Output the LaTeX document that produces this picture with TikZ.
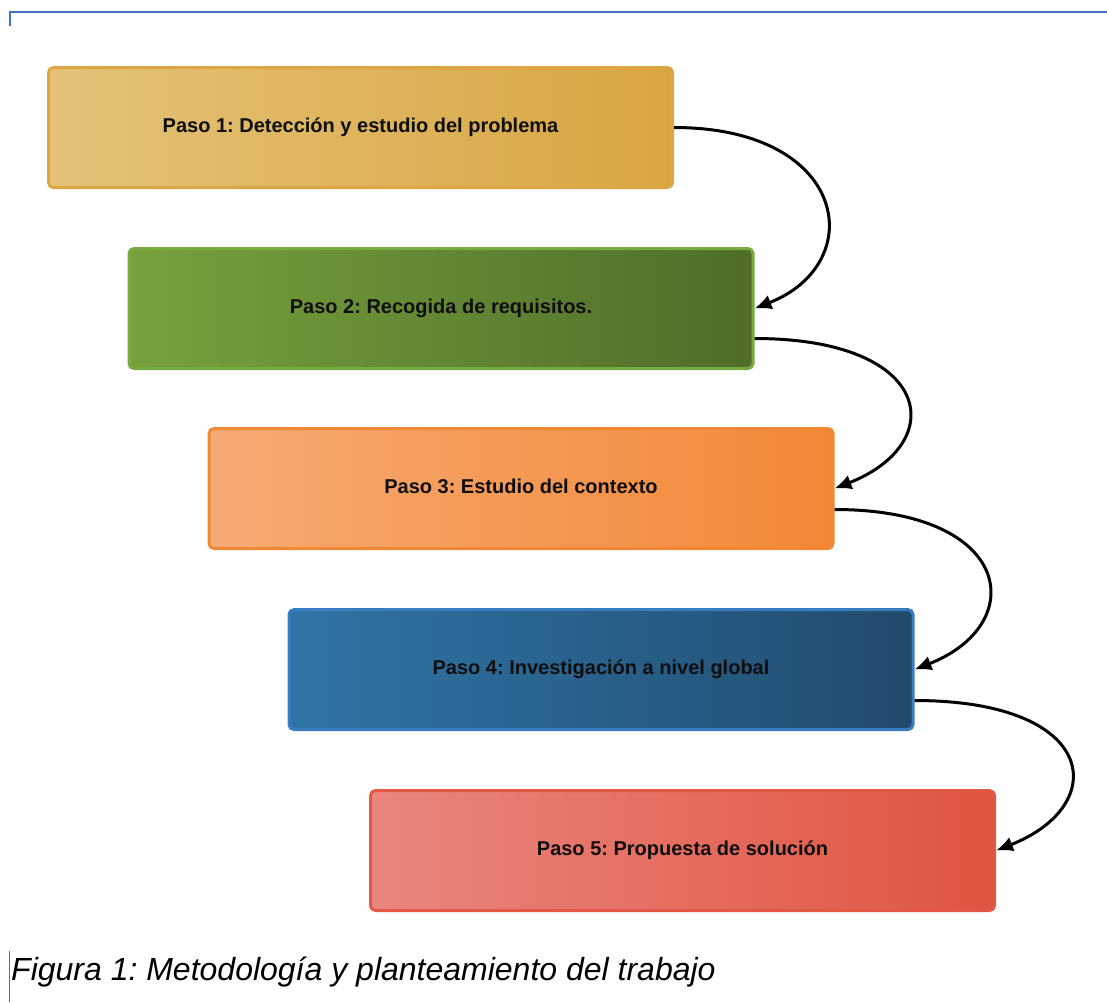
\documentclass[tikz,border=0pt]{standalone}
\usepackage{fontspec}
\setmainfont{Liberation Sans}
\usetikzlibrary{arrows.meta,calc}
\frenchspacing

\definecolor{rulebl}{HTML}{4471C2}
\definecolor{txt}{HTML}{0E0E0E}
% step boxes: light (left) to dark (right) fills, with border colours
\definecolor{yA}{HTML}{E4C279}\definecolor{yB}{HTML}{D8A640}\definecolor{yD}{HTML}{DCA645}
\definecolor{gA}{HTML}{78A13C}\definecolor{gB}{HTML}{4F6D2A}\definecolor{gD}{HTML}{78AB3F}
\definecolor{oA}{HTML}{F6AB74}\definecolor{oB}{HTML}{F38736}\definecolor{oD}{HTML}{F18836}
\definecolor{bA}{HTML}{2F75A7}\definecolor{bB}{HTML}{224B6D}\definecolor{bD}{HTML}{3A7CC0}
\definecolor{rA}{HTML}{E9867D}\definecolor{rB}{HTML}{E05441}\definecolor{rD}{HTML}{E25746}

\tikzset{
  stepbox/.style n args={3}{rectangle, rounded corners=5pt, line width=3pt,
    draw=#3, left color=#1, right color=#2,
    minimum width=624pt, minimum height=120pt, inner sep=0pt,
    text height=14pt, text depth=4.4pt, text=txt,
    font=\fontsize{20}{24}\selectfont\bfseries},
  flow/.style={line width=3pt, black,
    -{Latex[length=17pt,width=15pt]}},
  framerule/.style={rulebl, line width=2.6pt}
}

\begin{document}
\begin{tikzpicture}[x=1pt,y=-1pt]
  \useasboundingbox (0,0) rectangle (1107,1002);

  % page frame fragments
  \draw[framerule] (10,26) -- (10,12) -- (1107,12);
  \draw[rulebl, line width=1.4pt] (9.5,951) -- (9.5,1002);

  % steps
  \node[stepbox={yA}{yB}{yD}] (s1) at (360.5,127.5) {Paso 1: Detección y estudio del problema};
  \node[stepbox={gA}{gB}{gD}] (s2) at (441,308.5) {Paso 2: Recogida de requisitos.};
  \node[stepbox={oA}{oB}{oD}] (s3) at (521,488.5) {Paso 3: Estudio del contexto};
  \node[stepbox={bA}{bB}{bD}] (s4) at (601,669.5) {Paso 4: Investigación a nivel global};
  \node[stepbox={rA}{rB}{rD}] (s5) at (682.5,850.5) {Paso 5: Propuesta de solución};

  % exit points below the centre of each right side
  \coordinate (o2) at ($(s2.east)+(0,30)$);
  \coordinate (o3) at ($(s3.east)+(0,21)$);
  \coordinate (o4) at ($(s4.east)+(0,31)$);

  % connectors
  \draw[flow] (s1.east) .. controls +(175,0) and +(115,-45) .. (s2.east);
  \draw[flow] (o2) .. controls +(180,0) and +(115,-45) .. (s3.east);
  \draw[flow] (o3) .. controls +(180,0) and +(115,-45) .. (s4.east);
  \draw[flow] (o4) .. controls +(185,0) and +(115,-45) .. (s5.east);

  % caption
  \node[anchor=base west, inner sep=0pt, font=\fontsize{32}{38}\selectfont\itshape]
    (cap) at (11,980) {Figura 1: Metodología y planteamiento del trabajo};
\end{tikzpicture}
\end{document}
